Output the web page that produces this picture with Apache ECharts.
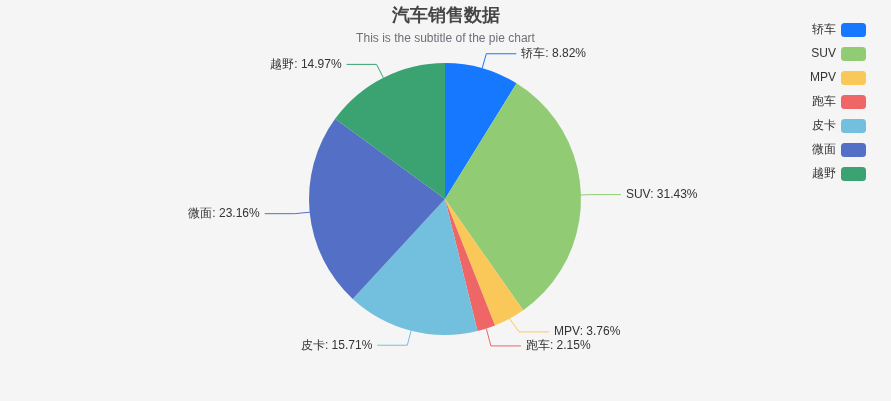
<!DOCTYPE html>
<html><head><meta charset="utf-8">
<script src="https://cdn.jsdelivr.net/npm/echarts@6/dist/echarts.min.js"></script>
<style>html,body{margin:0;padding:0;background:#f5f5f5}#c{width:891px;height:401px}</style>
</head><body><div id="c"></div>
<script>
const categories = ['轿车','SUV','MPV','跑车','皮卡','微面','越野'];
const values = [8.82,31.43,3.76,2.15,15.71,23.16,14.97];
const colors = ['#1677ff','#91cc75','#fac858','#ee6666','#73c0de','#5470c6','#3ba272'];
const chart = echarts.init(document.getElementById('c'));
chart.setOption({
  backgroundColor:'#f5f5f5',
  color: colors,
  title:{text:'汽车销售数据',subtext:'This is the subtitle of the pie chart',left:'center',top:2,
    textStyle:{fontSize:18,fontWeight:'bold',color:'#464646'},subtextStyle:{fontSize:12,color:'#6e7079'},itemGap:8},
  legend:{orient:'vertical',right:20,top:18,align:'right',itemWidth:25,itemHeight:14,itemGap:10,
    textStyle:{color:'#333',fontSize:12}},
  series:[{type:'pie',radius:136,center:[445,199],
    label:{formatter:'{b}: {d}%',color:'#333',fontSize:12},
    data:categories.map((n,i)=>({name:n,value:values[i]}))}]
});
</script></body></html>
